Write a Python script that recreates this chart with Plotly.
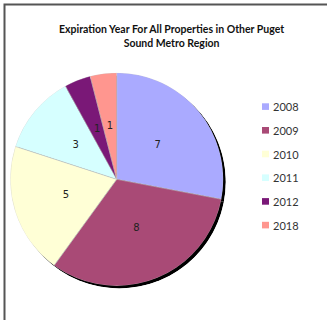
import plotly.graph_objects as go

# Lease expiration counts by year
years = ["2008", "2009", "2010", "2011", "2012", "2018"]
counts = [7, 8, 5, 3, 1, 1]
slice_colors = ["#AAAAFF", "#A94A76", "#FFFFD6", "#D6FFFF", "#7A1877", "#FF968F"]

title_text = "Expiration Year For All Properties in Other Puget<br>Sound Metro Region"

W, H = 327, 320

# pie geometry in pixels
cx, cy, r = 116.7, 179.3, 106.6
shadow_off = 2.5

# slice angles (degrees, clockwise from 12 o'clock)
total = sum(counts)
spans = [c * 360.0 / total for c in counts]
mids = []
acc = 0.0
for s in spans:
    mids.append(acc + s / 2)
    acc += s


def px_domain(x_c, y_c, rad):
    return dict(
        x=[(x_c - rad) / W, (x_c + rad) / W],
        y=[1 - (y_c + rad) / H, 1 - (y_c - rad) / H],
    )


def polar_axes(dom):
    return dict(
        domain=dom,
        bgcolor="rgba(0,0,0,0)",
        hole=0,
        radialaxis=dict(range=[0, 1], visible=False, showgrid=False),
        angularaxis=dict(rotation=90, direction="clockwise", visible=False,
                         showgrid=False, showline=False, ticks=""),
    )


fig = go.Figure()

# drop shadow behind the pie
fig.add_trace(go.Barpolar(
    r=[1] * len(counts), theta=mids, width=spans,
    marker=dict(color="#000000", line=dict(width=0)),
    hoverinfo="skip", showlegend=False, subplot="polar",
))

# pie slices
fig.add_trace(go.Barpolar(
    r=[1] * len(counts), theta=mids, width=spans,
    marker=dict(color=slice_colors, line=dict(width=0.5, color="#C8C8C8")),
    customdata=years, hovertemplate="%{customdata}: %{text}<extra></extra>",
    text=counts, showlegend=False, subplot="polar2",
))

# value labels at half radius on each slice bisector
fig.add_trace(go.Scatterpolar(
    r=[0.5] * len(counts), theta=mids, mode="text",
    text=[str(c) for c in counts],
    textfont=dict(family="DejaVu Sans", size=10, color="#222222"),
    hoverinfo="skip", showlegend=False, subplot="polar2",
))

shapes = [
    # chart frame
    dict(type="rect", xref="paper", yref="paper",
         x0=4.5 / W, x1=1.2, y0=-0.2, y1=1 - 4.5 / H,
         line=dict(color="#555555", width=2), fillcolor="rgba(0,0,0,0)"),
]
annotations = [
    dict(text=title_text, xref="paper", yref="paper",
         x=171 / W, y=1 - 36 / H, xanchor="center", yanchor="middle",
         showarrow=False, align="center",
         font=dict(family="Lato", size=10.5, color="#111111", weight="bold")),
]

# legend: swatch + year label per category
leg_top, leg_step = 106.6, 23.7
for i, (yr, col) in enumerate(zip(years, slice_colors)):
    yc = leg_top + i * leg_step
    shapes.append(dict(type="rect", xref="paper", yref="paper",
                       x0=262 / W, x1=269 / W,
                       y0=1 - (yc + 3.3) / H, y1=1 - (yc - 3.3) / H,
                       fillcolor=col, line=dict(width=0)))
    annotations.append(dict(text=yr, xref="paper", yref="paper",
                            x=270.5 / W, y=1 - yc / H,
                            xanchor="left", yanchor="middle", showarrow=False,
                            font=dict(family="Lato", size=11, color="#333333")))

fig.update_layout(
    width=W, height=H, autosize=False,
    margin=dict(l=0, r=0, t=0, b=0),
    paper_bgcolor="white", plot_bgcolor="white",
    polar=polar_axes(px_domain(cx + shadow_off, cy + shadow_off, r)),
    polar2=polar_axes(px_domain(cx, cy, r)),
    barmode="overlay",
    shapes=shapes, annotations=annotations,
)

fig.write_html("out.html")
